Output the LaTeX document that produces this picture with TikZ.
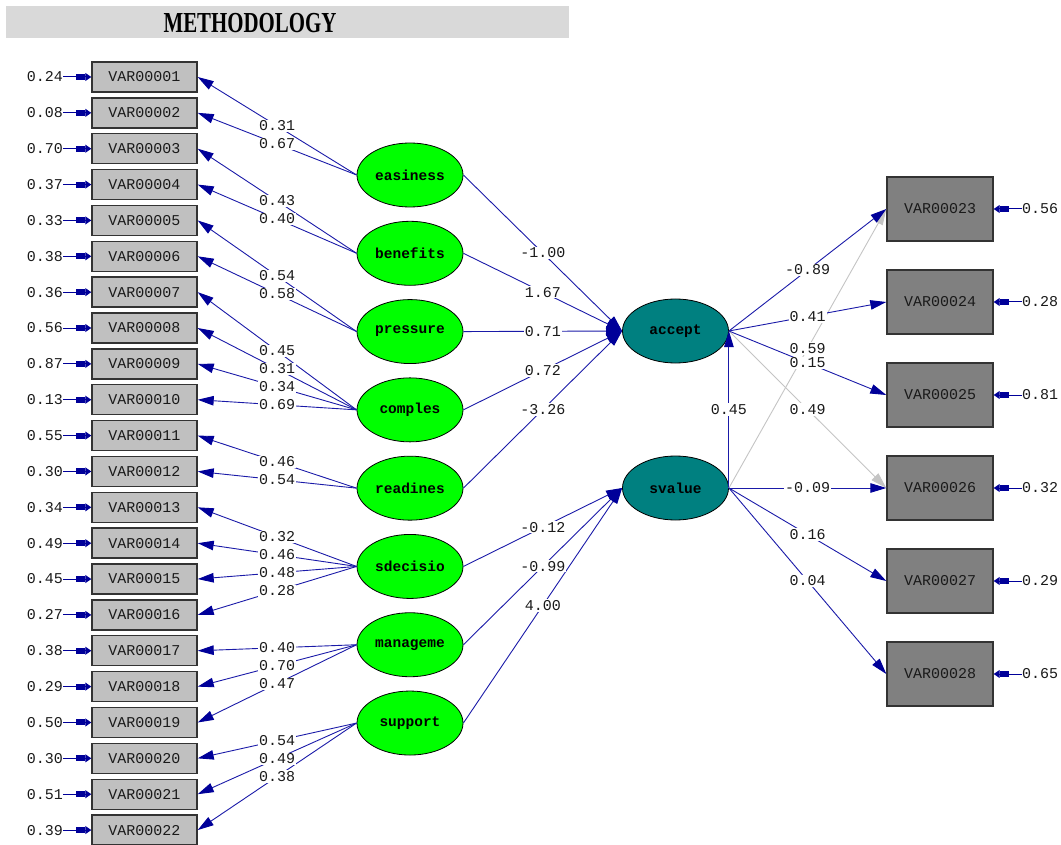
\documentclass[tikz,border=0pt]{standalone}
\usepackage{fontspec}
\setmainfont{Liberation Serif}
\newfontfamily\monof{Liberation Mono}
\usetikzlibrary{shapes.geometric,arrows.meta}
\pgfdeclarelayer{fg}
\pgfsetlayers{main,fg}
\definecolor{lnblue}{HTML}{1A1AA8}
\definecolor{arrblue}{HTML}{000099}
\definecolor{lgrayln}{HTML}{C4C4C4}
\definecolor{boxL}{HTML}{C0C0C0}
\definecolor{boxR}{HTML}{808080}
\definecolor{latgreen}{HTML}{00FF00}
\definecolor{latteal}{HTML}{008080}
\definecolor{titlegray}{HTML}{D9D9D9}
\definecolor{txt}{HTML}{1A1A1A}
\tikzset{
  obsL/.style={draw=black!80, line width=1.4pt, fill=boxL, minimum width=105pt, minimum height=30pt, inner sep=0pt, text=txt, font=\monof\fontsize{15}{15}\selectfont},
  obsR/.style={draw=black!80, line width=1.4pt, fill=boxR, minimum width=106pt, minimum height=64pt, inner sep=0pt, text=txt, font=\monof\fontsize{15}{15}\selectfont},
  latG/.style={ellipse, draw=black, line width=0.8pt, fill=latgreen, minimum width=106pt, minimum height=64pt, inner sep=0pt, font=\monof\bfseries\fontsize{14.5}{14.5}\selectfont},
  latT/.style={latG, fill=latteal},
  errlbl/.style={inner sep=0pt, text=txt, font=\monof\fontsize{15}{15}\selectfont},
  lbl/.style={fill=white, inner sep=1pt, text=txt, font=\monof\fontsize{15}{15}\selectfont},
  ln/.style={draw=lnblue, line width=0.9pt, -{Triangle[length=16pt,width=9.5pt]}, arrows={[color=arrblue]}},
  lngray/.style={draw=lgrayln, line width=0.9pt, -{Triangle[length=16pt,width=9.5pt]}},
  errarr/.style={draw=arrblue, line width=1pt, -{Rectangle[length=9pt,width=6pt]Triangle[length=6pt,width=8pt]}},
}
\begin{document}
\begin{tikzpicture}[x=1pt,y=-1pt]
\useasboundingbox (0,0) rectangle (1061,845);
\node[fill=titlegray, minimum width=563pt, minimum height=32pt, inner sep=0pt] (title) at (287.5,22) {};
\node[inner sep=0pt] (titletext) at (250,23)
  {\scalebox{0.72}[1]{\fontsize{29}{29}\selectfont\bfseries METHODOLOGY}};
% left observed variables
\foreach \i/\lab/\err in {1/VAR00001/0.24,2/VAR00002/0.08,3/VAR00003/0.70,4/VAR00004/0.37,5/VAR00005/0.33,6/VAR00006/0.38,7/VAR00007/0.36,8/VAR00008/0.56,9/VAR00009/0.87,10/VAR00010/0.13,11/VAR00011/0.55,12/VAR00012/0.30,13/VAR00013/0.34,14/VAR00014/0.49,15/VAR00015/0.45,16/VAR00016/0.27,17/VAR00017/0.38,18/VAR00018/0.29,19/VAR00019/0.50,20/VAR00020/0.30,21/VAR00021/0.51,22/VAR00022/0.39} {
  \pgfmathsetmacro\yy{77+(\i-1)*35.86}
  \node[obsL] (v\i) at (144.5,\yy) {\lab};
  \node[errlbl, anchor=east] (e\i) at (63,\yy) {\err};
  \draw[errarr] (e\i.east) -- (v\i.west);
}
% latent exogenous
\foreach \n/\t/\k in {ea/easiness/1,be/benefits/2,pr/pressure/3,co/comples/4,re/readines/5,sd/sdecisio/6,ma/manageme/7,su/support/8} {
  \pgfmathsetmacro\yy{175+(\k-1)*78.29}
  \node[latG] (\n) at (410,\yy) {\t};
}
\node[latT] (acc) at (675.5,331) {accept};
\node[latT] (sv) at (675.5,488) {svalue};
% right observed
\foreach \i/\lab/\err/\yy in {23/VAR00023/0.56/209,24/VAR00024/0.28/302,25/VAR00025/0.81/395,26/VAR00026/0.32/488,27/VAR00027/0.29/581,28/VAR00028/0.65/674} {
  \node[obsR] (v\i) at (940,\yy) {\lab};
  \node[errlbl, anchor=west] (e\i) at (1022,\yy) {\err};
  \draw[errarr] (e\i.west) -- (v\i.east);
}
% loadings
\foreach \s/\t/\l in {ea/v1/0.31,ea/v2/0.67,be/v3/0.43,be/v4/0.40,pr/v5/0.54,pr/v6/0.58,co/v7/0.45,co/v8/0.31,co/v9/0.34,co/v10/0.69,re/v11/0.46,re/v12/0.54,sd/v13/0.32,sd/v14/0.46,sd/v15/0.48,sd/v16/0.28,ma/v17/0.40,ma/v18/0.70,ma/v19/0.47,su/v20/0.54,su/v21/0.49,su/v22/0.38} {
  \draw[ln] (\s.west) -- (\t.east);
  \begin{pgfonlayer}{fg}
  \path (\s.west) -- (\t.east) node[lbl,pos=0.5] {\l};
  \end{pgfonlayer}
}
% structural paths
\foreach \s/\t/\l in {ea/acc/-1.00,be/acc/1.67,pr/acc/0.71,co/acc/0.72,re/acc/-3.26,sd/sv/-0.12,ma/sv/-0.99,su/sv/4.00} {
  \draw[ln] (\s.east) -- (\t.west);
  \begin{pgfonlayer}{fg}
  \path (\s.east) -- (\t.west) node[lbl,pos=0.5] {\l};
  \end{pgfonlayer}
}
\draw[ln] (sv.east) -- (acc.east);
\begin{pgfonlayer}{fg}
\path (sv.east) -- (acc.east) node[lbl,pos=0.5] {0.45};
\end{pgfonlayer}
% gray paths
\foreach \s/\t/\l in {sv/v23/0.59,acc/v26/0.49} {
  \draw[lngray] (\s.east) -- (\t.west);
  \begin{pgfonlayer}{fg}
  \path (\s.east) -- (\t.west) node[lbl,pos=0.5] {\l};
  \end{pgfonlayer}
}
% endogenous loadings
\foreach \s/\t/\l in {acc/v23/-0.89,acc/v24/0.41,acc/v25/0.15,sv/v26/-0.09,sv/v27/0.16,sv/v28/0.04} {
  \draw[ln] (\s.east) -- (\t.west);
  \begin{pgfonlayer}{fg}
  \path (\s.east) -- (\t.west) node[lbl,pos=0.5] {\l};
  \end{pgfonlayer}
}
\end{tikzpicture}
\end{document}
